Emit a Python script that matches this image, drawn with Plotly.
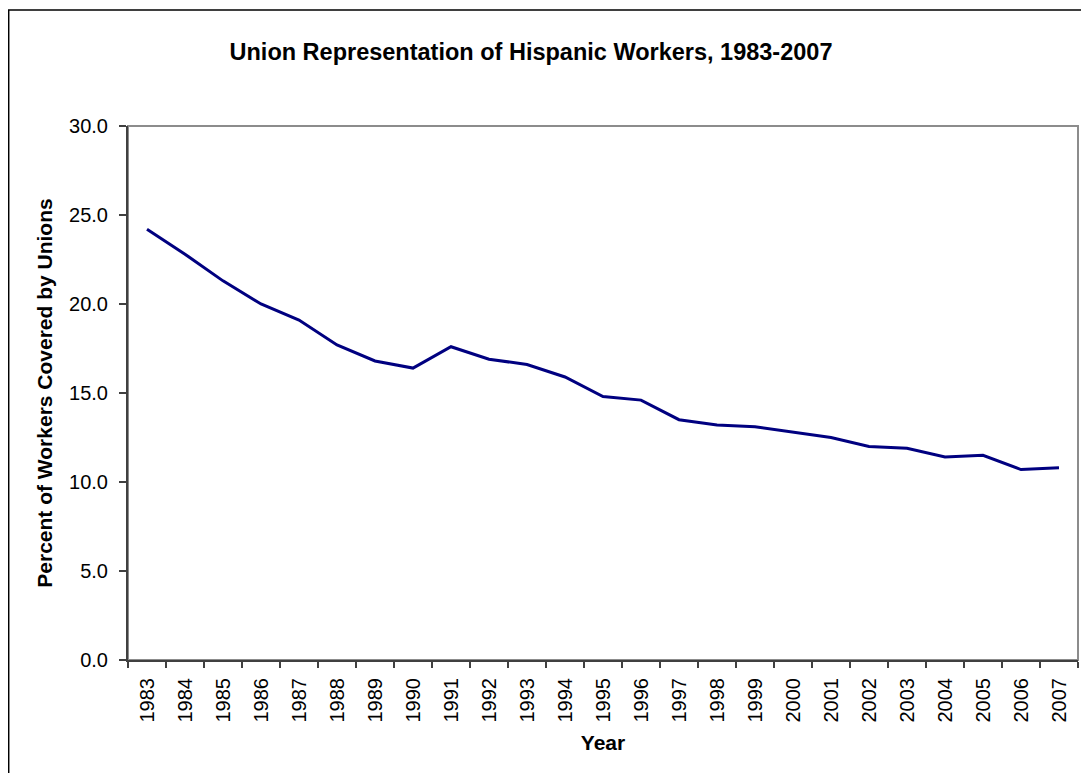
import plotly.graph_objects as go

years = [str(y) for y in range(1983, 2008)]
coverage = [24.2, 22.8, 21.3, 20.0, 19.1, 17.7, 16.8, 16.4, 17.6, 16.9,
            16.6, 15.9, 14.8, 14.6, 13.5, 13.2, 13.1, 12.8, 12.5, 12.0,
            11.9, 11.4, 11.5, 10.7, 10.8]
y_ticks = [0, 5, 10, 15, 20, 25, 30]
y_tick_labels = ["0.0", "5.0", "10.0", "15.0", "20.0", "25.0", "30.0"]

# page body has an 8px margin on every side; keep the figure inside the window
OFF = 8
W, H = 1089 - 2 * OFF, 781 - 2 * OFF
L, R, T, B = 128 - OFF, 1078 - OFF, 126 - OFF, 660 - OFF
pw, ph = R - L, B - T

def px(x):
    return (x - OFF - L) / pw

def py(y):
    return (B - (y - OFF)) / ph

fig = go.Figure()
fig.add_trace(go.Scatter(
    x=years, y=coverage, mode="lines",
    line=dict(color="#000080", width=3),
    showlegend=False, hoverinfo="x+y",
))

font = "Liberation Sans, Arial, sans-serif"

fig.update_layout(
    width=W, height=H,
    margin=dict(l=L, r=W - R, t=T, b=H - B),
    paper_bgcolor="white", plot_bgcolor="white",
    font=dict(family=font, color="black", size=20),
    title=dict(text="<b>Union Representation of Hispanic Workers, 1983-2007</b>",
               x=px(531), xref="paper", xanchor="center",
               y=1 - (52 - OFF) / H, yref="container", yanchor="middle",
               font=dict(size=23.5, family=font, color="black")),
    shapes=[
        dict(type="rect", xref="paper", yref="paper",
             x0=0, x1=1, y0=0, y1=1,
             line=dict(color="#8c8c8c", width=2), layer="below"),
        dict(type="rect", xref="paper", yref="paper",
             x0=px(8.7), x1=px(1120), y0=py(820), y1=py(10),
             line=dict(color="black", width=1.5), layer="below"),
    ],
)

fig.update_xaxes(
    type="category", tickson="boundaries", range=[-0.5, len(years) - 0.5],
    ticks="outside", ticklen=6, tickwidth=1.5, tickcolor="#404040",
    showline=True, linecolor="#404040", linewidth=2,
    showgrid=False, zeroline=False,
    tickangle=-90, tickfont=dict(size=20, family=font),
    ticklabelstandoff=8,
    title=dict(text="<b>Year</b>", font=dict(size=21, family=font), standoff=14),
)
fig.update_yaxes(
    range=[0, 30], tickvals=y_ticks, ticktext=y_tick_labels,
    ticks="outside", ticklen=7, tickwidth=1.5, tickcolor="#404040",
    showline=True, linecolor="#404040", linewidth=2,
    showgrid=False, zeroline=False,
    tickfont=dict(size=20, family=font),
    ticklabelstandoff=7,
    title=dict(text="<b>Percent of Workers Covered by Unions</b>",
               font=dict(size=21, family=font), standoff=11),
)

fig.write_html("out.html")
